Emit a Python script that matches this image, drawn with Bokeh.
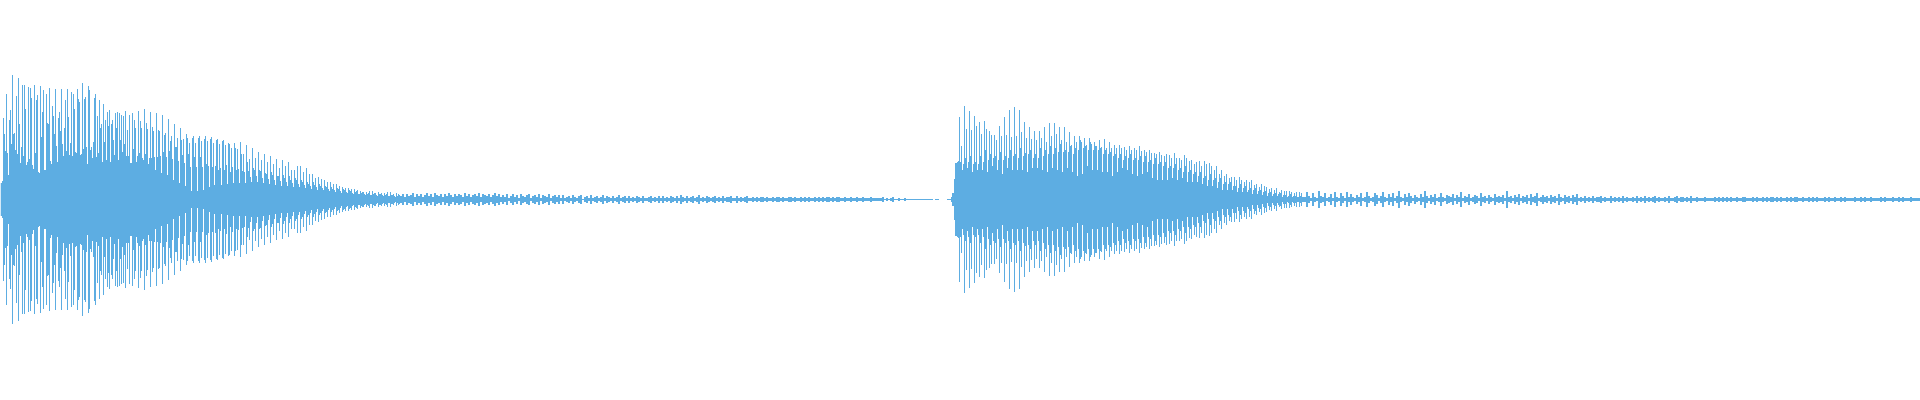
from bokeh.plotting import figure
from bokeh.embed import file_html
from bokeh.resources import INLINE

COLOR = "#5DADE2"

# amplitude per pixel column, first note, columns 0..399
note1 = [
17,17,19,82,66,49,106,47,25,80,90,56,125,66,67,50,104,46,122,76,37,53,115,44,115,91,35,38,113,41,
112,102,35,31,115,47,100,105,28,27,114,63,88,110,30,30,106,77,76,112,39,36,94,84,66,111,54,38,82,88,
69,111,56,44,72,100,49,111,83,45,57,108,44,106,91,48,47,111,101,98,45,46,117,51,101,103,53,36,114,110,
50,53,42,58,102,106,43,84,47,100,72,76,38,96,58,80,40,88,74,90,38,76,80,60,45,87,72,88,40,87,
60,85,48,84,56,89,44,70,44,85,37,37,87,51,80,72,38,44,89,47,79,72,42,40,91,46,77,71,36,42,
88,42,73,69,43,30,87,43,70,69,44,27,85,48,65,67,43,25,81,49,59,64,41,20,76,53,53,62,39,17,
72,60,45,61,37,14,66,62,46,57,33,9,62,64,43,57,33,9,62,64,43,59,33,10,61,64,36,59,34,13,
61,63,33,57,15,34,60,61,30,56,32,15,59,60,30,55,35,16,57,56,28,52,33,17,57,52,30,51,31,17,
58,46,29,46,28,17,55,38,29,41,23,18,
52,32,30,42,24,18,48,30,29,40,22,17,46,27,26,38,21,16,44,28,25,36,20,15,41,24,24,32,19,14,
40,25,22,34,18,14,38,24,20,30,17,13,30,22,20,34,16,13,34,20,18,28,15,12,32,18,16,26,14,11,
26,18,15,22,13,10,23,16,14,21,12,10,20,14,13,18,11,9,18,13,11,16,10,8,16,12,11,14,9,7,
13,11,10,12,8,7,12,10,9,11,7,6,11,8,9,10,6,6,9,7,8,8,6,5,8,6,7,9,5,5,
9,6,7,7,5,4,8,6,6,7,5,4,7,5,6,8,4,4,8,5,5,6,4,3,7,4,6,5,4,4,
]

# quiet decay after the first note, one digit per 2 columns
tail1 = (
    "63645736463574637546364753646537463564736546357463"
    "536246352643562453625436245352"
    "52342532451342523423524324235234242324324223423242"
    "42324324253242342352324323423242334224232342232323"
    "32322323323223323223232322323232332323322322322322"
    "322232222231212311211211111111111"
)
# last faint trace before the second note, one value per 2 columns
trace = [1,1,1,0,1,1,0,0,0,0,1,1,1,1]

# onset of the second note, columns 951..958
onset = [3,7,7,21,37,37,38,39]
# second note, one entry per 5-column period from column 959
peak = [83,94,89,84,78,79,69,65,74,83,90,93,90,78,73,69,69,73,77,77,73,73,68,64,64,62,62,58,60,61,58,55,55,53,54,52,54,50,50,47,48,44,45,47,42,45,39,36,39,39,37,30,26,24,22,23,23,18,18,15,13,14,11,10,8,9,9,7,8]
mid = [54,71,70,74,66,71,65,60,64,65,63,64,68,62,61,60,62,58,64,66,60,58,55,58,58,55,56,54,53,52,52,52,52,50,50,50,49,48,47,46,45,46,42,42,40,42,40,38,34,36,34,34,30,26,23,20,20,20,20,16,16,13,12,12,10,9,8,8,7]
fill = [38,42,44,38,44,50,46,44,48,44,50,46,52,47,50,46,52,50,54,52,56,50,54,52,60,54,58,54,52,50,48,46,46,44,46,42,44,44,40,42,38,38,34,36,32,34,30,28,28,24,26,22,22,18,18,14,16,14,12,12,10,9,8,7,7,5,6,4,4]
fill2 = [36,38,36,36,38,40,42,40,40,42,44,42,44,46,42,42,44,46,46,48,48,48,46,50,52,50,50,50,46,46,44,42,40,42,40,40,38,38,36,36,34,32,32,30,28,28,26,24,22,20,20,18,16,16,14,12,12,10,10,9,8,7,6,6,5,4,4,3,3]
slit = [30,32,28,30,30,28,34,30,26,32,30,30,30,28,32,32,30,28,32,30,28,32,28,24,26,34,30,30,28,28,24,28,32,30,26,24,26,28,22,20,20,20,22,20,22,18,18,18,16,14,14,12,10,10,10,8,8,8,6,6,5,4,4,4,3,3,3,3,3]

# quiet decay after the second note, one digit per 2 columns
tail2 = (
    "384273294372362832742836325372384237524832637249"
    "32637425326394253623732543625382436235427342532634"
    "3529342536243526347235342534263253425362"
    "324232423342322423232423223242324232342322324223423323242232"
    "22322223232323232232233222323223232332323223232332"
    "232232323222323223223232222322323223222232322232232322232222"
)

cols, amps = [], []
def add(start, step, values):
    for i, v in enumerate(values):
        for j in range(step):
            if v > 0:
                cols.append(start + i * step + j)
                amps.append(v)

add(0, 1, note1)
add(len(note1), 2, [int(c) for c in tail1])
add(927, 2, trace)
add(951, 1, onset)
for k, (a, b, c, c2, d) in enumerate(zip(peak, mid, fill, fill2, slit)):
    add(959 + 5 * k, 1, [a, c, b, d, c2])
start2 = 959 + 5 * len(peak)
add(start2, 2, [int(c) for c in tail2])

p = figure(width=1920, height=400, x_range=(0, 1920), y_range=(-201.5, 198.5),
           output_backend="svg", toolbar_location=None, min_border=0)
p.axis.visible = False
p.grid.visible = False
p.outline_line_color = None
p.background_fill_color = "white"
p.vbar(x=cols, width=1, top=[a - 1 for a in amps], bottom=[-a for a in amps],
       fill_color=COLOR, line_color=None)

open("out.html", "w").write(file_html(p, INLINE))
